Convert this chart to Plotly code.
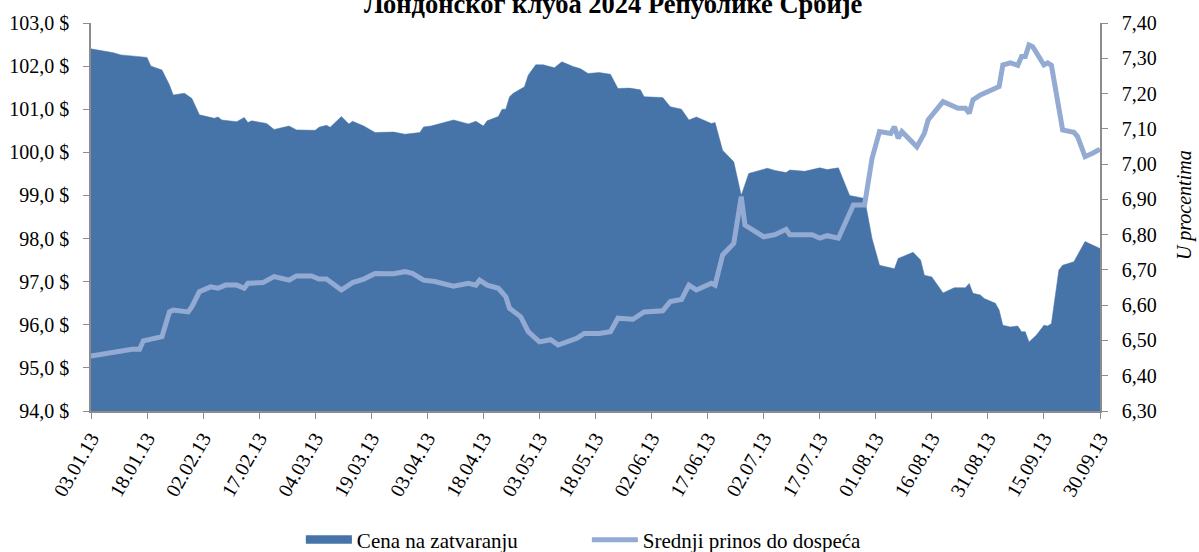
import plotly.graph_objects as go

# ---- data ----
price_dates = [
    "2013-01-03", "2013-01-09", "2013-01-11", "2013-01-13", "2013-01-16", "2013-01-18", "2013-01-19",
    "2013-01-22", "2013-01-24", "2013-01-25", "2013-01-28", "2013-01-30", "2013-02-01", "2013-02-05",
    "2013-02-06", "2013-02-07", "2013-02-11", "2013-02-13", "2013-02-14", "2013-02-15", "2013-02-19",
    "2013-02-21", "2013-02-25", "2013-02-27", "2013-03-04", "2013-03-05", "2013-03-07", "2013-03-08",
    "2013-03-11", "2013-03-13", "2013-03-14", "2013-03-17", "2013-03-20", "2013-03-25", "2013-03-28",
    "2013-04-01", "2013-04-02", "2013-04-04", "2013-04-10", "2013-04-14", "2013-04-16", "2013-04-18",
    "2013-04-19", "2013-04-22", "2013-04-23", "2013-04-24", "2013-04-25", "2013-04-26", "2013-04-29",
    "2013-04-30", "2013-05-02", "2013-05-04", "2013-05-07", "2013-05-09", "2013-05-12", "2013-05-14",
    "2013-05-16", "2013-05-19", "2013-05-22", "2013-05-24", "2013-05-27", "2013-05-30", "2013-05-31",
    "2013-06-05", "2013-06-07", "2013-06-10", "2013-06-12", "2013-06-14", "2013-06-18", "2013-06-19",
    "2013-06-20", "2013-06-21", "2013-06-24", "2013-06-26", "2013-06-28", "2013-07-03", "2013-07-05",
    "2013-07-08", "2013-07-09", "2013-07-13", "2013-07-17", "2013-07-19", "2013-07-22", "2013-07-25",
    "2013-07-29", "2013-07-31", "2013-08-02", "2013-08-06", "2013-08-07", "2013-08-11", "2013-08-13",
    "2013-08-14", "2013-08-16", "2013-08-19", "2013-08-22", "2013-08-25", "2013-08-26", "2013-08-27",
    "2013-08-29", "2013-08-30", "2013-09-02", "2013-09-03", "2013-09-04", "2013-09-06", "2013-09-08",
    "2013-09-09", "2013-09-10", "2013-09-11", "2013-09-13", "2013-09-15", "2013-09-16", "2013-09-17",
    "2013-09-19", "2013-09-20", "2013-09-23", "2013-09-26", "2013-09-30",
]
price_values = [
    102.40, 102.31, 102.26, 102.25, 102.22, 102.20, 102.00,
    101.91, 101.56, 101.33, 101.37, 101.25, 100.87, 100.79,
    100.82, 100.75, 100.71, 100.81, 100.69, 100.73, 100.67,
    100.53, 100.61, 100.52, 100.51, 100.58, 100.63, 100.58,
    100.83, 100.66, 100.72, 100.61, 100.46, 100.47, 100.42,
    100.46, 100.59, 100.61, 100.75, 100.66, 100.72, 100.61,
    100.73, 100.83, 101.00, 101.00, 101.29, 101.37, 101.52,
    101.79, 102.03, 102.03, 101.96, 102.10, 101.99, 101.94,
    101.83, 101.85, 101.81, 101.48, 101.49, 101.45, 101.29,
    101.27, 101.06, 101.00, 100.75, 100.82, 100.67, 100.69,
    100.35, 100.05, 99.78, 99.00, 99.51, 99.63, 99.58,
    99.53, 99.59, 99.56, 99.64, 99.60, 99.64, 99.00,
    98.93, 98.00, 97.38, 97.30, 97.54, 97.68, 97.50,
    97.15, 97.11, 96.74, 96.86, 96.86, 96.96, 96.73,
    96.69, 96.61, 96.50, 96.34, 95.99, 95.95, 95.97,
    95.84, 95.84, 95.60, 95.76, 95.99, 95.97, 96.03,
    97.27, 97.38, 97.46, 97.93, 97.77,
]

yield_dates = [
    "2013-01-03", "2013-01-09", "2013-01-12", "2013-01-14", "2013-01-16", "2013-01-17", "2013-01-22",
    "2013-01-24", "2013-01-25", "2013-01-29", "2013-01-30", "2013-02-01", "2013-02-04", "2013-02-06",
    "2013-02-08", "2013-02-11", "2013-02-13", "2013-02-14", "2013-02-18", "2013-02-21", "2013-02-25",
    "2013-02-27", "2013-03-03", "2013-03-05", "2013-03-07", "2013-03-11", "2013-03-14", "2013-03-17",
    "2013-03-20", "2013-03-25", "2013-03-28", "2013-03-30", "2013-04-02", "2013-04-05", "2013-04-10",
    "2013-04-14", "2013-04-16", "2013-04-17", "2013-04-19", "2013-04-22", "2013-04-24", "2013-04-25",
    "2013-04-28", "2013-04-30", "2013-05-03", "2013-05-06", "2013-05-08", "2013-05-13", "2013-05-15",
    "2013-05-19", "2013-05-22", "2013-05-24", "2013-05-28", "2013-05-29", "2013-05-31", "2013-06-05",
    "2013-06-07", "2013-06-10", "2013-06-12", "2013-06-14", "2013-06-18", "2013-06-19", "2013-06-20",
    "2013-06-21", "2013-06-24", "2013-06-26", "2013-06-27", "2013-06-29", "2013-07-02", "2013-07-05",
    "2013-07-08", "2013-07-09", "2013-07-15", "2013-07-17", "2013-07-19", "2013-07-22", "2013-07-24",
    "2013-07-26", "2013-07-29", "2013-07-31", "2013-08-02", "2013-08-05", "2013-08-06", "2013-08-07",
    "2013-08-08", "2013-08-12", "2013-08-14", "2013-08-15", "2013-08-19", "2013-08-21", "2013-08-23",
    "2013-08-25", "2013-08-26", "2013-08-27", "2013-08-29", "2013-09-02", "2013-09-03", "2013-09-04",
    "2013-09-06", "2013-09-08", "2013-09-09", "2013-09-10", "2013-09-11", "2013-09-12", "2013-09-15",
    "2013-09-16", "2013-09-17", "2013-09-20", "2013-09-23", "2013-09-24", "2013-09-26", "2013-09-28",
    "2013-09-30",
]
yield_values = [
    6.456, 6.468, 6.473, 6.475, 6.475, 6.499, 6.511,
    6.581, 6.586, 6.581, 6.596, 6.638, 6.652, 6.648,
    6.657, 6.657, 6.648, 6.662, 6.664, 6.681, 6.671,
    6.683, 6.683, 6.674, 6.674, 6.643, 6.664, 6.674,
    6.690, 6.689, 6.695, 6.690, 6.671, 6.667, 6.654,
    6.662, 6.657, 6.671, 6.657, 6.648, 6.624, 6.591,
    6.567, 6.525, 6.496, 6.502, 6.487, 6.506, 6.520,
    6.520, 6.525, 6.563, 6.560, 6.567, 6.581, 6.584,
    6.610, 6.616, 6.657, 6.643, 6.662, 6.657, 6.700,
    6.742, 6.775, 6.908, 6.827, 6.813, 6.794, 6.800,
    6.815, 6.800, 6.800, 6.790, 6.797, 6.790, 6.841,
    6.884, 6.884, 7.016, 7.092, 7.087, 7.106, 7.073,
    7.092, 7.049, 7.087, 7.125, 7.177, 7.168, 7.158,
    7.158, 7.144, 7.182, 7.196, 7.215, 7.220, 7.281,
    7.287, 7.280, 7.305, 7.305, 7.338, 7.333, 7.281,
    7.287, 7.280, 7.097, 7.090, 7.078, 7.021, 7.031,
    7.042,
]

series_names = ["Cena na zatvaranju", "Srednji prinos do dospeća"]
title_text = "Лондонског клуба 2024 Републике Србије"
right_axis_title = "U procentima"
left_ticks = [94, 95, 96, 97, 98, 99, 100, 101, 102, 103]
right_ticks = [6.3, 6.4, 6.5, 6.6, 6.7, 6.8, 6.9, 7.0, 7.1, 7.2, 7.3, 7.4]

AREA_COLOR = "#4674A9"
LINE_COLOR = "#93AAD3"
AXIS_COLOR = "#8C8C8C"
FONT = "Liberation Serif"

fig = go.Figure()
fig.add_trace(go.Scatter(
    x=price_dates, y=price_values, name=series_names[0],
    mode="lines", fill="tozeroy", fillcolor=AREA_COLOR,
    line=dict(color=AREA_COLOR, width=0.5), yaxis="y",
))
fig.add_trace(go.Scatter(
    x=yield_dates, y=yield_values, name=series_names[1],
    mode="lines", line=dict(color=LINE_COLOR, width=5), yaxis="y2",
))

fig.update_layout(
    width=1199, height=552,
    margin=dict(l=91, r=99, t=23, b=141, autoexpand=False),
    paper_bgcolor="white", plot_bgcolor="white",
    font=dict(family=FONT, size=20, color="black"),
    showlegend=True,
    legend=dict(orientation="h", x=0.208, y=-0.333, xanchor="left", yanchor="middle",
                font=dict(family=FONT, size=21, color="black"), itemwidth=46,
                entrywidth=225, tracegroupgap=0, itemsizing="constant"),
    xaxis=dict(
        type="date", range=["2013-01-03", "2013-09-30"], automargin=False,
        tick0="2013-01-03", dtick=15 * 86400000, tickformat="%d.%m.%y",
        tickangle=-60, ticks="outside", ticklen=6, tickcolor=AXIS_COLOR,
        showline=True, linecolor=AXIS_COLOR, linewidth=1.5, showgrid=False, zeroline=False,
        tickfont=dict(family=FONT, size=20, color="black"),
    ),
    yaxis=dict(
        range=[94, 103], tickvals=left_ticks, automargin=False,
        ticktext=[f"{v:.1f}".replace(".", ",") + " $" for v in left_ticks],
        ticks="outside", ticklen=6, tickcolor=AXIS_COLOR, ticklabelstandoff=10,
        showline=True, linecolor=AXIS_COLOR, linewidth=1.5, showgrid=False, zeroline=False,
        tickfont=dict(family=FONT, size=20, color="black"),
    ),
    yaxis2=dict(
        range=[6.3, 7.4], tickvals=right_ticks, automargin=False,
        ticktext=[f"{v:.2f}".replace(".", ",") for v in right_ticks],
        overlaying="y", side="right", anchor="x",
        ticks="outside", ticklen=6, tickcolor=AXIS_COLOR, ticklabelstandoff=10,
        showline=True, linecolor=AXIS_COLOR, linewidth=1.5, showgrid=False, zeroline=False,
        tickfont=dict(family=FONT, size=20, color="black"),
    ),
    annotations=[
        dict(text=f"<b>{title_text}</b>", xref="paper", yref="paper",
             x=0.518, y=1.004, xanchor="center", yanchor="bottom", showarrow=False,
             font=dict(family=FONT, size=26.5, color="black")),
        dict(text=f"<i>{right_axis_title}</i>", xref="paper", yref="paper",
             x=1.084, y=0.53, xanchor="center", yanchor="middle", textangle=-90, showarrow=False,
             font=dict(family=FONT, size=20, color="black")),
    ],
)

fig.write_html("out.html", config={"displayModeBar": False},
               post_script="document.body.style.margin='0';")
